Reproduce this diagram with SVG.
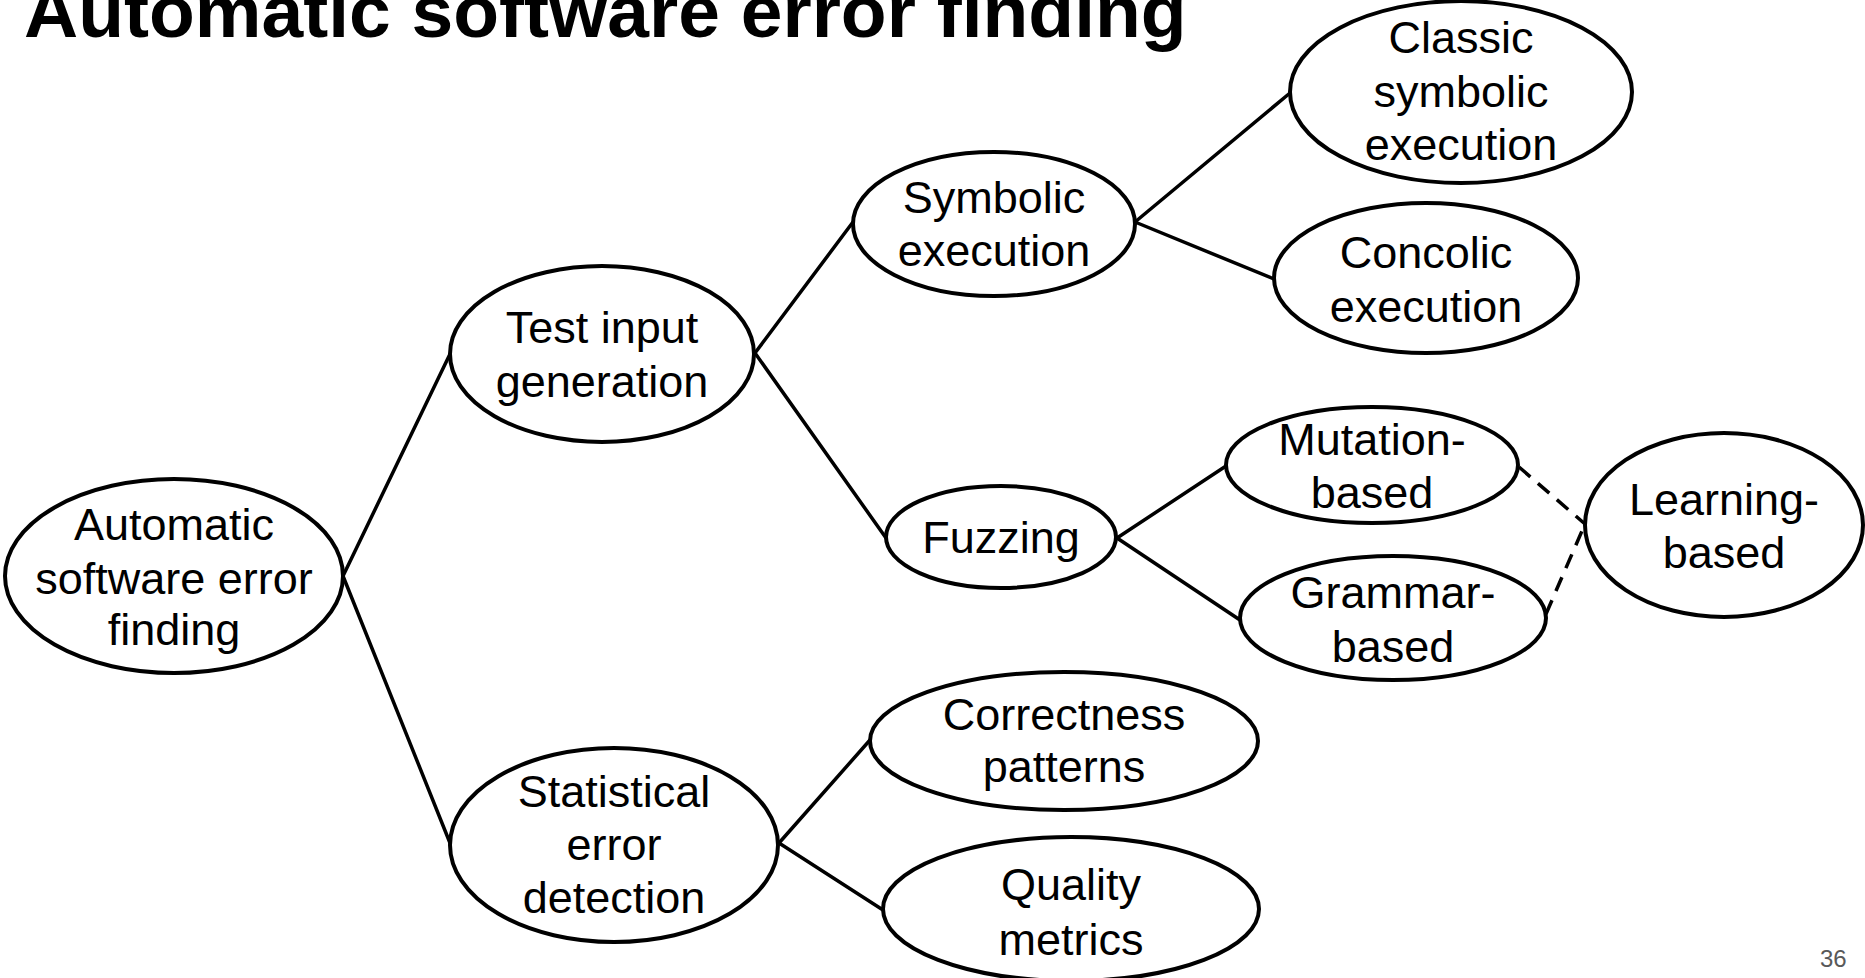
<svg xmlns="http://www.w3.org/2000/svg" width="1865" height="978" viewBox="0 0 1865 978">
  <style>
    .node ellipse { fill: #ffffff; stroke: #000000; stroke-width: 4; }
    .node text { font-family: "Liberation Sans", Arial, sans-serif; font-size: 45px; fill: #000000; text-anchor: middle; }
    .edge { stroke: #000000; stroke-width: 3.5; fill: none; stroke-linecap: round; }
    .edge.dashed { stroke-dasharray: 15 10; stroke-linecap: butt; }
    .title { font-family: "Liberation Sans", Arial, sans-serif; font-size: 75px; font-weight: bold; fill: #000000; }
    .pagenum { font-family: "Liberation Sans", Arial, sans-serif; font-size: 24px; fill: #595959; }
  </style>
  <rect width="1865" height="978" fill="#ffffff"/>

  <text class="title" x="24" y="37">Automatic software error finding</text>

  <g id="connectors">
    <line class="edge" x1="343" y1="576" x2="450" y2="354"/>
    <line class="edge" x1="343" y1="576" x2="450" y2="843"/>
    <line class="edge" x1="755" y1="353" x2="853" y2="222"/>
    <line class="edge" x1="755" y1="353" x2="886" y2="538"/>
    <line class="edge" x1="1135" y1="222" x2="1290" y2="93"/>
    <line class="edge" x1="1135" y1="222" x2="1274" y2="279"/>
    <line class="edge" x1="1117" y1="538" x2="1226" y2="466"/>
    <line class="edge" x1="1117" y1="538" x2="1240" y2="620"/>
    <line class="edge" x1="779" y1="843" x2="870" y2="740"/>
    <line class="edge" x1="779" y1="843" x2="883" y2="910"/>
    <line class="edge dashed" x1="1519" y1="467" x2="1585" y2="524"/>
    <line class="edge dashed" x1="1546" y1="614" x2="1585" y2="524"/>
  </g>

  <g id="node-root" class="node">
    <ellipse cx="174" cy="576" rx="169" ry="97"/>
    <text x="174" y="540">Automatic</text>
    <text x="174" y="594">software error</text>
    <text x="174" y="645">finding</text>
  </g>

  <g id="node-test-input" class="node">
    <ellipse cx="602" cy="354" rx="152" ry="88"/>
    <text x="602" y="343">Test input</text>
    <text x="602" y="397">generation</text>
  </g>

  <g id="node-statistical" class="node">
    <ellipse cx="614" cy="845" rx="164" ry="97"/>
    <text x="614" y="807">Statistical</text>
    <text x="614" y="860">error</text>
    <text x="614" y="913">detection</text>
  </g>

  <g id="node-symbolic" class="node">
    <ellipse cx="994" cy="224" rx="141" ry="72"/>
    <text x="994" y="213">Symbolic</text>
    <text x="994" y="266">execution</text>
  </g>

  <g id="node-fuzzing" class="node">
    <ellipse cx="1001" cy="537" rx="115" ry="51"/>
    <text x="1001" y="553">Fuzzing</text>
  </g>

  <g id="node-classic" class="node">
    <ellipse cx="1461" cy="92" rx="171" ry="91"/>
    <text x="1461" y="53">Classic</text>
    <text x="1461" y="107">symbolic</text>
    <text x="1461" y="160">execution</text>
  </g>

  <g id="node-concolic" class="node">
    <ellipse cx="1426" cy="278" rx="152" ry="75"/>
    <text x="1426" y="268">Concolic</text>
    <text x="1426" y="322">execution</text>
  </g>

  <g id="node-mutation" class="node">
    <ellipse cx="1372" cy="465" rx="146" ry="58"/>
    <text x="1372" y="455">Mutation-</text>
    <text x="1372" y="508">based</text>
  </g>

  <g id="node-grammar" class="node">
    <ellipse cx="1393" cy="618" rx="153" ry="62"/>
    <text x="1393" y="608">Grammar-</text>
    <text x="1393" y="662">based</text>
  </g>

  <g id="node-learning" class="node">
    <ellipse cx="1724" cy="525" rx="139" ry="92"/>
    <text x="1724" y="515">Learning-</text>
    <text x="1724" y="568">based</text>
  </g>

  <g id="node-correctness" class="node">
    <ellipse cx="1064" cy="741" rx="194" ry="69"/>
    <text x="1064" y="730">Correctness</text>
    <text x="1064" y="782">patterns</text>
  </g>

  <g id="node-quality" class="node">
    <ellipse cx="1071" cy="909" rx="188" ry="72"/>
    <text x="1071" y="900">Quality</text>
    <text x="1071" y="955">metrics</text>
  </g>

  <text class="pagenum" x="1820" y="967">36</text>
</svg>
